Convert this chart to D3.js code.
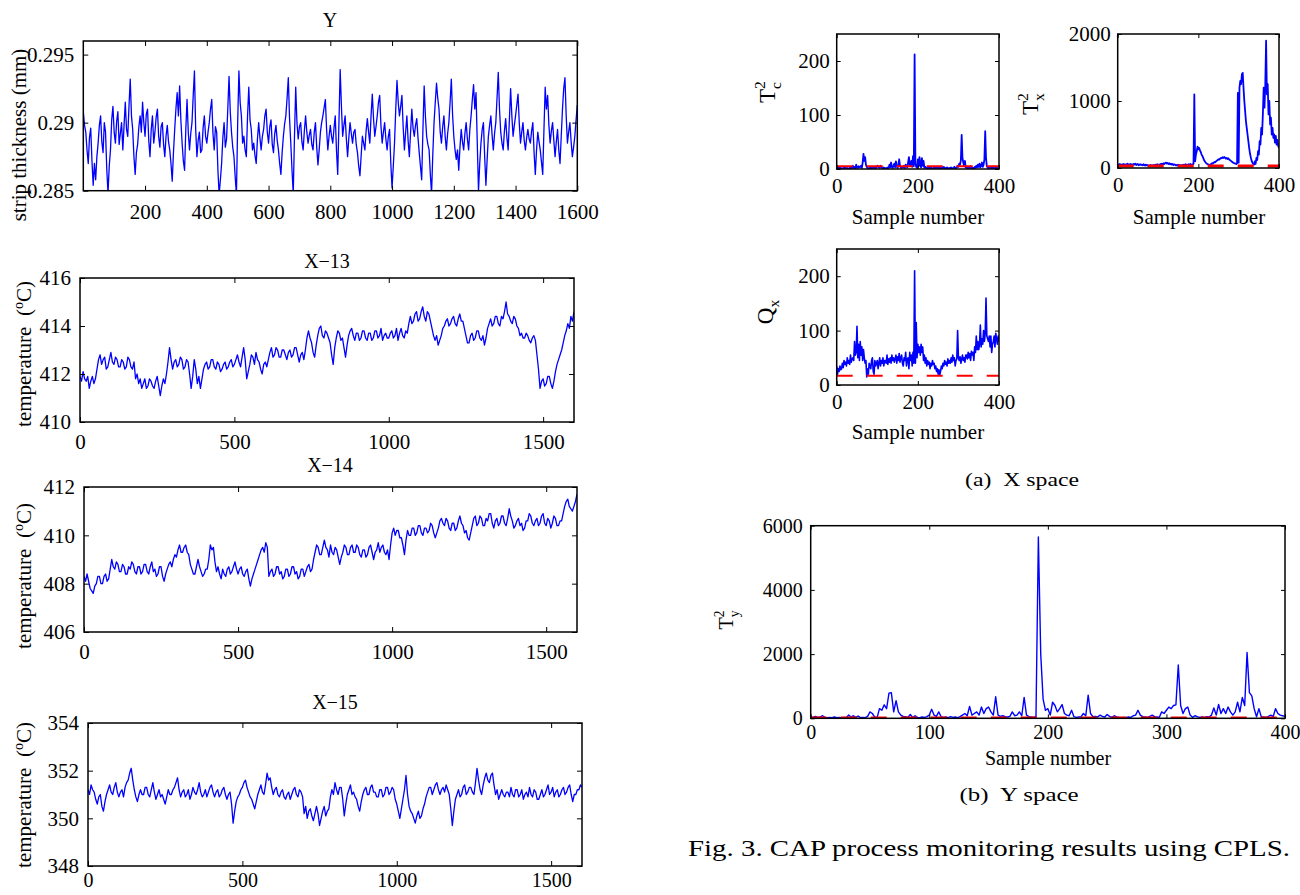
<!DOCTYPE html>
<html><head><meta charset="utf-8">
<script src="https://cdn.jsdelivr.net/npm/d3@7"></script>
<style>
body{margin:0;background:#fff}
svg{display:block}
text{font-family:"Liberation Serif","Times New Roman",serif;fill:#000}
</style>
</head><body><svg id="c" width="1300" height="895"></svg>
<script>
// ---------------- DATA ----------------
// Y : strip thickness (mm), one value every 4 samples (0..1600)
const thicknessY = [
0.2908,0.2898,0.2893,0.2880,0.2870,0.2889,0.2896,0.2872,0.2854,0.2870,0.2858,0.2875,0.2885,0.2898,0.2905,0.2886,0.2878,0.2900,0.2893,0.2866,
0.2848,0.2868,0.2880,0.2902,0.2912,0.2893,0.2885,0.2901,0.2908,0.2884,0.2892,0.2900,0.2880,0.2898,0.2915,0.2895,0.2890,0.2912,0.2932,0.2905,
0.2895,0.2875,0.2862,0.2878,0.2884,0.2897,0.2905,0.2893,0.2915,0.2900,0.2890,0.2906,0.2910,0.2887,0.2875,0.2895,0.2905,0.2885,0.2893,0.2904,
0.2910,0.2890,0.2882,0.2897,0.2900,0.2884,0.2875,0.2890,0.2898,0.2886,0.2880,0.2870,0.2857,0.2878,0.2895,0.2910,0.2922,0.2905,0.2927,0.2902,
0.2885,0.2872,0.2865,0.2895,0.2917,0.2893,0.2880,0.2892,0.2900,0.2920,0.2938,0.2895,0.2875,0.2887,0.2893,0.2878,0.2880,0.2896,0.2905,0.2890,
0.2885,0.2893,0.2900,0.2910,0.2917,0.2892,0.2880,0.2897,0.2893,0.2865,0.2847,0.2858,0.2870,0.2889,0.2900,0.2882,0.2888,0.2910,0.2934,0.2908,
0.2893,0.2882,0.2875,0.2860,0.2847,0.2900,0.2938,0.2915,0.2905,0.2885,0.2890,0.2880,0.2875,0.2905,0.2926,0.2902,0.2895,0.2880,0.2885,0.2876,
0.2870,0.2888,0.2900,0.2889,0.2880,0.2890,0.2895,0.2905,0.2910,0.2893,0.2885,0.2897,0.2902,0.2884,0.2878,0.2892,0.2898,0.2887,0.2880,0.2870,
0.2862,0.2878,0.2890,0.2899,0.2905,0.2918,0.2933,0.2903,0.2885,0.2865,0.2848,0.2890,0.2926,0.2900,0.2888,0.2897,0.2900,0.2886,0.2880,0.2894,
0.2905,0.2893,0.2885,0.2891,0.2895,0.2884,0.2880,0.2893,0.2900,0.2882,0.2869,0.2880,0.2893,0.2900,0.2905,0.2911,0.2917,0.2895,0.2880,0.2890,
0.2898,0.2890,0.2885,0.2896,0.2905,0.2880,0.2862,0.2900,0.2939,0.2912,0.2890,0.2898,0.2905,0.2888,0.2875,0.2889,0.2900,0.2892,0.2885,0.2893,
0.2895,0.2884,0.2878,0.2868,0.2861,0.2876,0.2890,0.2885,0.2880,0.2894,0.2903,0.2893,0.2885,0.2905,0.2921,0.2903,0.2890,0.2897,0.2905,0.2915,
0.2920,0.2898,0.2885,0.2893,0.2900,0.2888,0.2880,0.2890,0.2895,0.2870,0.2852,0.2868,0.2885,0.2910,0.2931,0.2915,0.2905,0.2912,0.2920,0.2897,
0.2880,0.2893,0.2905,0.2887,0.2875,0.2893,0.2910,0.2896,0.2890,0.2898,0.2903,0.2889,0.2878,0.2868,0.2858,0.2895,0.2927,0.2905,0.2890,0.2884,
0.2880,0.2862,0.2848,0.2877,0.2900,0.2915,0.2929,0.2918,0.2910,0.2893,0.2885,0.2897,0.2905,0.2890,0.2880,0.2892,0.2900,0.2915,0.2932,0.2906,
0.2890,0.2880,0.2873,0.2880,0.2865,0.2882,0.2895,0.2886,0.2880,0.2892,0.2900,0.2888,0.2880,0.2895,0.2905,0.2917,0.2928,0.2910,0.2922,0.2885,
0.2850,0.2870,0.2885,0.2895,0.2900,0.2875,0.2854,0.2873,0.2890,0.2898,0.2905,0.2891,0.2880,0.2892,0.2900,0.2918,0.2937,0.2910,0.2893,0.2885,
0.2880,0.2894,0.2903,0.2889,0.2880,0.2902,0.2925,0.2905,0.2890,0.2898,0.2905,0.2913,0.2921,0.2900,0.2885,0.2893,0.2900,0.2887,0.2880,0.2889,
0.2895,0.2888,0.2885,0.2894,0.2900,0.2878,0.2862,0.2880,0.2893,0.2886,0.2880,0.2871,0.2862,0.2895,0.2926,0.2910,0.2920,0.2898,0.2885,0.2894,
0.2900,0.2887,0.2875,0.2886,0.2895,0.2880,0.2870,0.2890,0.2910,0.2925,0.2933,0.2905,0.2885,0.2893,0.2900,0.2886,0.2875,0.2882,0.2890,0.2902,
0.2913];
// X-13 / X-14 / X-15 temperatures (degC), one value every 5 samples (0..1600)
const tempX13 = [
411.9,411.7,412.1,411.8,411.7,411.9,411.4,411.7,411.9,411.6,411.8,412.2,412.6,412.8,412.4,412.6,412.7,412.2,412.3,412.6,
412.9,412.5,412.4,412.7,412.6,412.3,412.3,412.6,412.5,412.2,412.3,412.7,412.6,412.3,412.2,412.5,411.8,412.0,411.6,411.8,
411.4,411.6,411.8,411.4,411.5,411.8,411.7,411.5,411.4,411.7,411.9,411.5,411.1,411.5,411.8,411.6,412.0,412.5,413.1,412.6,
412.2,412.5,412.6,412.3,412.4,412.7,412.6,412.2,412.3,412.6,412.5,412.0,411.4,411.9,412.6,412.2,411.6,411.9,411.4,411.8,
412.2,412.4,412.5,412.2,412.3,412.6,412.6,412.3,412.2,412.5,412.4,412.1,412.2,412.4,412.5,412.2,412.3,412.5,412.6,412.3,
412.4,412.6,412.8,412.5,412.3,412.7,413.1,412.6,411.8,412.1,412.4,412.8,412.7,412.4,412.9,412.6,412.5,412.2,412.0,412.4,
412.5,412.3,412.6,412.9,413.1,412.7,412.8,413.1,413.0,412.7,412.7,413.0,413.0,412.8,412.6,412.9,413.0,412.7,412.8,413.1,
413.1,412.8,412.5,412.8,412.9,412.6,413.0,413.5,413.8,413.5,413.3,412.9,412.7,413.2,413.6,413.9,414.0,413.6,413.5,413.8,
413.7,413.5,413.3,412.8,412.4,413.1,413.5,413.8,413.7,413.4,413.5,413.1,412.7,413.2,413.6,413.8,413.9,413.6,413.4,413.7,
413.7,413.4,413.5,413.8,413.8,413.5,413.4,413.7,413.7,413.4,413.5,413.8,413.8,413.5,413.6,413.9,413.4,413.6,413.7,413.5,
413.5,413.7,413.8,413.5,413.6,413.9,413.4,413.7,413.9,413.6,413.5,413.8,413.7,414.1,414.4,414.1,414.2,414.5,414.6,414.2,
414.3,414.6,414.8,414.4,414.2,414.6,414.5,414.2,413.9,413.6,413.4,413.6,413.2,413.4,413.6,413.9,414.0,414.2,414.3,414.0,
414.1,414.3,414.4,414.1,414.0,414.3,414.5,414.2,414.2,413.9,413.6,413.3,413.3,413.6,413.7,413.4,413.5,413.8,413.8,413.5,
413.4,413.6,413.2,413.5,413.9,414.1,414.3,414.0,414.1,414.4,414.4,414.1,414.0,414.4,414.3,414.6,415.0,414.5,414.4,414.2,
414.1,414.4,414.3,414.0,413.9,413.6,413.7,413.5,413.5,413.7,413.6,413.4,413.3,413.5,413.6,413.4,412.8,412.2,411.4,411.7,
411.8,411.5,411.6,411.9,411.9,411.6,411.4,411.7,412.1,412.4,412.6,412.8,413.0,413.3,413.6,413.8,414.1,413.9,414.4,414.2,
414.6];
const tempX14 = [
408.3,408.1,408.4,408.1,407.8,407.7,407.6,407.9,408.0,408.3,408.3,408.0,408.0,408.3,408.4,408.1,408.2,408.6,409.0,408.7,
408.6,408.9,408.8,408.5,408.5,408.8,408.7,408.4,408.4,408.7,408.6,408.9,408.8,408.5,408.4,408.7,408.7,408.4,408.5,408.8,
408.8,408.5,408.4,408.7,408.9,408.5,408.6,408.3,408.4,408.7,408.7,408.3,408.1,408.4,408.6,408.8,408.9,408.7,409.0,409.2,
409.1,409.4,409.6,409.3,409.3,409.5,409.6,409.3,409.2,408.8,408.6,408.4,408.4,408.7,409.0,408.7,408.5,408.3,408.4,408.6,
408.6,409.0,409.6,409.4,409.5,408.9,408.5,408.7,408.4,408.2,408.6,408.4,408.3,408.6,408.7,408.4,408.5,408.7,408.9,408.6,
408.4,408.6,408.7,408.4,408.3,408.5,408.6,408.2,407.9,408.2,408.4,408.6,408.8,409.0,409.2,409.4,409.5,409.3,409.7,409.5,
408.3,408.5,408.6,408.3,408.4,408.7,408.7,408.4,408.5,408.2,408.3,408.6,408.6,408.3,408.4,408.7,408.7,408.4,408.5,408.2,
408.3,408.6,408.6,408.3,408.5,408.7,408.8,408.5,408.6,409.0,409.3,409.6,409.5,409.2,409.2,409.5,409.8,409.5,409.4,409.1,
409.6,409.3,409.2,409.5,409.4,409.1,408.8,409.1,409.3,409.6,409.5,409.2,409.2,409.5,409.6,409.3,409.3,409.6,409.5,409.2,
409.1,409.4,409.4,409.1,409.2,409.5,409.6,409.3,409.0,409.3,409.4,409.7,409.3,409.5,409.6,409.3,409.2,409.4,409.0,409.6,
410.1,410.3,410.0,410.2,410.2,409.9,409.9,409.6,409.2,409.8,410.2,410.0,410.0,410.3,410.3,410.0,410.1,410.4,410.4,410.1,
410.0,410.3,410.3,410.1,410.2,410.5,410.4,410.1,409.9,410.1,410.3,410.6,410.7,410.5,410.4,410.7,410.6,410.3,410.2,410.5,
410.5,410.2,410.3,410.6,410.8,410.5,410.4,410.1,410.2,409.9,409.8,410.1,410.4,410.7,410.8,410.4,410.5,410.8,410.7,410.4,
410.4,410.7,410.6,410.9,410.9,410.5,410.3,410.6,410.7,410.4,410.5,410.8,410.8,410.5,410.4,410.7,411.1,410.8,410.6,410.3,
410.4,410.6,410.7,410.4,410.5,410.2,410.3,410.6,410.6,410.9,410.8,410.5,410.4,410.6,410.7,410.4,410.5,410.8,410.9,410.5,
410.4,410.7,410.6,410.3,410.5,410.8,410.7,410.4,410.4,410.6,410.6,410.9,411.2,411.4,411.5,411.2,411.1,411.0,411.2,411.4,
411.7];
const tempX15 = [
351.2,351.0,351.4,351.2,351.1,350.8,350.6,350.9,351.0,350.5,350.3,350.7,351.0,351.2,351.4,351.1,351.0,351.3,351.5,351.1,
350.9,351.1,351.2,350.9,351.3,351.5,351.6,351.9,352.1,351.6,351.2,350.9,350.7,351.0,351.2,351.0,351.0,351.3,351.3,351.0,
350.9,351.2,351.5,351.1,350.8,351.0,351.2,350.9,351.0,350.8,350.6,350.9,351.2,351.0,351.0,351.2,351.3,351.5,351.7,351.2,
350.9,351.1,351.2,350.9,351.0,351.2,350.8,351.0,351.3,351.1,351.0,351.2,351.5,351.1,350.9,351.0,351.2,350.9,351.1,351.3,
351.4,351.1,350.9,351.1,351.2,350.9,351.0,351.2,351.3,351.0,350.8,351.0,351.1,350.6,349.8,350.3,350.7,350.9,351.0,351.2,
351.3,351.5,351.6,351.3,351.1,350.9,350.8,350.6,350.4,350.7,351.0,351.2,351.4,351.1,351.0,351.4,351.9,351.6,351.7,351.3,
351.0,351.2,351.3,351.0,350.9,351.1,351.2,350.9,350.8,351.0,351.1,350.8,351.0,351.2,351.3,351.0,350.9,351.2,351.1,350.9,
350.2,350.5,350.0,350.3,350.4,350.1,349.9,350.2,350.5,350.2,349.7,350.0,350.3,350.5,350.1,350.3,350.4,350.9,351.2,351.0,
351.5,351.2,351.0,351.3,351.3,350.8,350.1,350.6,351.0,351.2,351.4,351.0,351.1,350.9,350.8,350.5,350.3,350.7,351.0,351.2,
351.3,351.0,351.0,351.3,351.4,351.1,351.1,350.9,350.9,351.2,351.2,350.9,351.0,351.3,351.3,351.0,351.1,351.3,351.2,350.8,
350.6,350.3,350.0,350.4,350.8,351.2,351.8,351.0,350.5,350.3,350.2,350.0,349.8,350.1,350.3,350.0,350.1,350.4,350.6,350.9,
351.1,351.3,351.3,351.0,351.2,351.4,351.5,351.2,351.0,351.2,351.3,351.1,351.4,351.2,351.0,350.4,349.7,350.3,350.8,351.0,
351.2,350.9,351.0,351.3,351.4,351.0,351.1,351.3,351.3,351.1,351.0,351.5,352.1,351.6,351.2,351.0,351.4,351.7,351.9,351.6,
351.5,351.8,351.9,351.4,351.0,351.2,350.8,351.0,351.2,351.0,350.9,351.1,351.1,350.9,351.3,351.0,350.9,351.2,351.2,350.9,
351.0,351.2,350.8,351.0,351.1,350.9,351.3,351.0,350.9,351.2,351.1,350.8,350.8,351.0,351.2,350.9,351.0,351.2,351.4,351.0,
351.1,351.3,350.9,351.1,351.2,350.9,351.0,351.2,351.3,351.0,351.1,351.3,351.4,351.0,350.7,351.0,351.0,351.2,351.2,351.4,
351.3];
// Monitoring statistics, one value every 2 samples (0..400)
const statT2c = [
1,2,1,3,1,2,1,1,2,1,3,2,1,2,1,1,2,3,1,2,
6,2,4,1,8,3,2,5,3,4,6,2,12,28,15,22,8,4,2,1,
2,1,3,1,2,4,2,1,3,2,6,5,3,2,6,4,2,1,3,2,
1,2,1,3,2,8,3,12,4,2,6,10,3,14,5,2,8,18,6,3,
2,4,3,6,2,8,5,3,12,22,8,6,15,4,24,5,212,10,4,2,
18,5,22,8,3,20,6,15,2,4,3,2,1,4,2,1,3,2,1,2,
3,1,2,4,1,2,3,1,2,1,3,2,4,1,2,1,3,2,1,2,
1,3,2,1,2,4,2,1,3,6,4,10,8,16,63,20,12,5,15,3,
2,4,1,3,2,5,1,3,2,1,4,2,6,3,8,4,10,3,6,12,
4,8,18,70,20,5,3,1,4,2,3,1,2,4,1,2,3,1,2,1,
2];
const statT2x = [
50,40,60,45,55,40,50,60,45,55,40,50,65,45,55,50,60,45,55,50,
60,50,65,45,55,60,40,50,55,45,50,40,55,45,35,50,40,45,30,40,
35,45,30,40,35,45,40,50,45,55,40,50,45,60,50,65,55,70,60,75,
80,65,75,60,70,55,65,50,60,45,55,50,40,45,35,50,40,45,35,40,
45,35,50,40,55,45,50,40,55,45,60,50,45,55,60,1100,100,200,250,320,
280,300,260,240,200,180,150,120,100,80,70,60,55,50,45,50,60,70,65,80,
90,85,100,110,120,130,125,140,150,145,160,150,165,155,140,150,135,145,130,120,
110,100,90,80,75,70,65,60,70,1120,80,1200,1300,1250,1400,1420,1200,1000,850,700,
600,500,400,300,220,160,110,80,60,50,100,60,150,120,250,200,400,350,600,500,
800,1200,900,1250,1900,1100,1250,800,1000,650,750,500,600,450,500,380,480,350,420,330,
300];
const statQx = [
35,20,30,25,35,28,30,40,32,45,38,42,35,50,40,45,38,55,42,48,
50,45,80,55,60,108,50,75,45,80,55,70,45,65,50,40,45,15,30,20,
40,35,30,45,50,25,20,45,35,40,45,30,40,50,35,45,40,50,35,45,
45,40,55,38,48,42,50,40,55,45,50,42,48,55,40,52,45,58,42,50,
55,40,35,50,45,60,35,48,50,30,60,45,55,35,60,40,210,40,115,50,
75,60,70,55,75,60,70,45,55,40,50,35,45,38,42,30,40,35,45,38,
40,30,35,25,30,20,28,18,25,35,30,40,35,45,38,42,35,48,40,45,
40,50,42,55,45,50,35,45,48,100,50,45,52,40,48,55,45,50,42,55,
55,48,60,50,58,45,62,55,60,45,70,60,90,65,80,65,75,110,70,85,
75,100,80,95,160,90,85,80,90,70,90,60,75,80,90,70,95,85,75,90,
80];
const statT2y = [
40,30,60,30,40,80,30,20,30,20,40,20,30,20,30,20,100,40,80,30,
70,20,30,20,60,200,150,40,20,300,250,420,300,780,800,200,550,200,100,60,
50,30,120,30,80,30,20,40,30,50,100,280,100,60,200,50,30,40,20,50,
30,40,20,50,100,150,80,370,100,150,200,100,350,150,300,350,200,100,670,100,
60,80,50,40,60,200,80,100,200,80,650,100,50,40,30,60,5650,2000,600,250,
300,100,500,400,200,300,430,150,100,80,250,50,30,40,50,150,80,720,150,50,
60,40,100,60,40,120,60,30,80,40,30,20,30,20,40,30,80,100,250,100,
50,40,30,60,100,50,40,30,200,150,250,350,300,400,420,1660,400,150,300,350,
100,30,80,50,30,40,30,50,40,100,320,100,430,150,300,150,350,200,100,200,
500,200,650,400,2050,800,700,300,50,300,50,40,30,60,100,50,300,150,100,80,
60];
// control limits (red dashed)
const limitT2c = 5, limitT2x = 30, limitQx = 17, limitT2y = 15;
// tick values
const ticksYx = [200,400,600,800,1000,1200,1400,1600];
const ticksYy = [0.285,0.29,0.295];
const ticksLeftX = [0,500,1000,1500];
const ticksX13 = [410,412,414,416];
const ticksX14 = [406,408,410,412];
const ticksX15 = [348,350,352,354];
const ticksSmallX = [0,200,400];
const ticksT2c = [0,100,200];
const ticksT2x = [0,1000,2000];
const ticksQx = [0,100,200];
const ticksT2yX = [0,100,200,300,400];
const ticksT2yY = [0,2000,4000,6000];

// ---------------- DRAW ----------------
const FONT = '"Liberation Serif","Times New Roman",serif';
const svg = d3.select('#c');
let clipN = 0;

function panel(cfg){
  const x = d3.scaleLinear().domain(cfg.xd).range([cfg.L, cfg.R]);
  const y = d3.scaleLinear().domain(cfg.yd).range([cfg.B, cfg.T]);
  const id = 'clip' + (clipN++);
  svg.append('clipPath').attr('id', id).append('rect')
    .attr('x', cfg.L).attr('y', cfg.T).attr('width', cfg.R - cfg.L).attr('height', cfg.B - cfg.T);
  const g = svg.append('g');
  const plot = g.append('g').attr('clip-path', `url(#${id})`);
  cfg.series.forEach(s => {
    const line = d3.line().x((d, i) => x(s.step * i)).y(d => y(d));
    plot.append('path').datum(s.values).attr('d', line)
      .attr('fill', 'none').attr('stroke', '#0000ff').attr('stroke-width', s.w)
      .attr('stroke-linejoin', 'round');
  });
  if (cfg.limit !== undefined) {
    plot.append('path').datum(cfg.xd)
      .attr('d', d3.line().x(d => x(d)).y(() => y(cfg.limit)))
      .attr('fill', 'none').attr('stroke', '#ff0000').attr('stroke-width', cfg.limW || 2)
      .attr('stroke-dasharray', cfg.dash || '16,14');
  }
  const tl = cfg.tl, fs = cfg.fs, xfs = cfg.xfs || cfg.fs;
  const style = (sel, size) => {
    sel.attr('font-family', FONT).attr('font-size', size);
    sel.select('.domain').remove();
    sel.selectAll('.tick line').attr('stroke', '#000').attr('stroke-width', 1);
    sel.selectAll('.tick text').attr('fill', '#000');
  };
  g.append('g').attr('transform', `translate(0,${cfg.B})`)
    .call(d3.axisBottom(x).tickValues(cfg.xt).tickSize(-tl).tickPadding(cfg.xpad).tickFormat(d3.format('d'))).call(style, xfs);
  g.append('g').attr('transform', `translate(0,${cfg.T})`)
    .call(d3.axisTop(x).tickValues(cfg.xt).tickSize(-tl).tickFormat('')).call(style, fs);
  g.append('g').attr('transform', `translate(${cfg.L},0)`)
    .call(d3.axisLeft(y).tickValues(cfg.yt).tickSize(-tl).tickPadding(cfg.ypad).tickFormat(cfg.yf)).call(style, fs);
  g.append('g').attr('transform', `translate(${cfg.R},0)`)
    .call(d3.axisRight(y).tickValues(cfg.yt).tickSize(-tl).tickFormat('')).call(style, fs);
  g.append('rect').attr('x', cfg.L).attr('y', cfg.T).attr('width', cfg.R - cfg.L).attr('height', cfg.B - cfg.T)
    .attr('fill', 'none').attr('stroke', '#000').attr('stroke-width', 1.5);
  return {x, y};
}

const intFmt = d3.format('d');
const thickFmt = d => String(+d.toFixed(4));

// left column
panel({L:83.3,R:577.3,T:41,B:190.7,xd:[0,1600],yd:[0.285,0.296],xt:ticksYx,yt:ticksYy,yf:thickFmt,
  tl:5,fs:21,xpad:13,ypad:9,series:[{values:thicknessY,step:4,w:1.3}]});
panel({L:80,R:574,T:278,B:422,xd:[0,1600],yd:[410,416],xt:ticksLeftX,yt:ticksX13,yf:intFmt,
  tl:5,fs:21,xpad:12,ypad:9,series:[{values:tempX13,step:5,w:1.3}]});
panel({L:84,R:577,T:487,B:632,xd:[0,1600],yd:[406,412],xt:ticksLeftX,yt:ticksX14,yf:intFmt,
  tl:5,fs:21,xpad:12,ypad:9,series:[{values:tempX14,step:5,w:1.3}]});
panel({L:88,R:582,T:723,B:866,xd:[0,1600],yd:[348,354],xt:ticksLeftX,yt:ticksX15,yf:intFmt,
  tl:5,fs:21,xfs:20,xpad:7,ypad:9,series:[{values:tempX15,step:5,w:1.3}]});

// right column
panel({L:836.7,R:999,T:34,B:169,xd:[0,400],yd:[0,250],xt:ticksSmallX,yt:ticksT2c,yf:intFmt,
  tl:4,fs:21,xpad:9,ypad:7,series:[{values:statT2c,step:2,w:1.8}],limit:limitT2c});
panel({L:1117.7,R:1279,T:34,B:168,xd:[0,400],yd:[0,2000],xt:ticksSmallX,yt:ticksT2x,yf:intFmt,
  tl:4,fs:21,xpad:9,ypad:7,series:[{values:statT2x,step:2,w:1.8}],limit:limitT2x,limW:3});
panel({L:836.7,R:999,T:249,B:385,xd:[0,400],yd:[0,250],xt:ticksSmallX,yt:ticksQx,yf:intFmt,
  tl:4,fs:21,xpad:9,ypad:7,series:[{values:statQx,step:2,w:1.6}],limit:limitQx});
panel({L:810.7,R:1285,T:525.7,B:718.3,xd:[0,400],yd:[0,6000],xt:ticksT2yX,yt:ticksT2yY,yf:intFmt,
  tl:4,fs:20,xpad:7,ypad:8,series:[{values:statT2y,step:2,w:1.4}],limit:limitT2y,limW:2.5});

// titles
function txt(x, y, s, fs, anchor){
  return svg.append('text').attr('x', x).attr('y', y).attr('font-size', fs)
    .attr('text-anchor', anchor || 'middle').text(s);
}
txt(330, 27, 'Y', 20);
txt(327, 268, 'X\u221213', 20);
txt(330, 472, 'X\u221214', 20);
txt(335, 709, 'X\u221215', 20);

// left y labels
function vlabel(cx, cy, fs){
  return svg.append('text').attr('transform', `translate(${cx},${cy}) rotate(-90)`)
    .attr('text-anchor', 'middle').attr('font-size', fs);
}
vlabel(26, 135, 21).text('strip thickness (mm)');
function tempLabel(cx, cy){
  const t = vlabel(cx, cy, 21);
  t.append('tspan').text('temperature\u00a0\u00a0(');
  t.append('tspan').attr('font-size', 14).attr('dy', -8).text('o');
  t.append('tspan').attr('dy', 8).text('C)');
}
tempLabel(31, 354);
tempLabel(31, 576);
tempLabel(31, 795);

// right y labels (T with super/subscripts)
function statLabel(cx, cy, fs, base, sup, sub){
  const t = vlabel(cx, cy, fs);
  const sf = fs * 0.68;
  t.append('tspan').text(base);
  if (sup) t.append('tspan').attr('font-size', sf).attr('dy', -fs * 0.45).text(sup);
  if (sub) t.append('tspan').attr('font-size', sf)
    .attr('dx', sup ? -sf * 0.5 : 0).attr('dy', sup ? fs * 0.45 + fs * 0.28 : fs * 0.28).text(sub);
}
statLabel(775, 92, 23, 'T', '2', 'c');
statLabel(1038, 104, 23, 'T', '2', 'x');
statLabel(773, 312, 23, 'Q', null, 'x');
statLabel(733, 620, 20, 'T', '2', 'y');

// x labels of right panels
txt(918, 224, 'Sample number', 21);
txt(1199, 224, 'Sample number', 21);
txt(918, 439, 'Sample number', 21);
txt(1048, 765, 'Sample number', 20);

// captions
txt(1022, 486, '(a)\u00a0 X space', 18).attr('textLength', 114).attr('lengthAdjust', 'spacingAndGlyphs');
txt(1019, 801, '(b)\u00a0 Y space', 18).attr('textLength', 119).attr('lengthAdjust', 'spacingAndGlyphs');
txt(989, 856, 'Fig. 3. CAP process monitoring results using CPLS.', 24).attr('textLength', 602).attr('lengthAdjust', 'spacingAndGlyphs');
</script>
</body></html>
